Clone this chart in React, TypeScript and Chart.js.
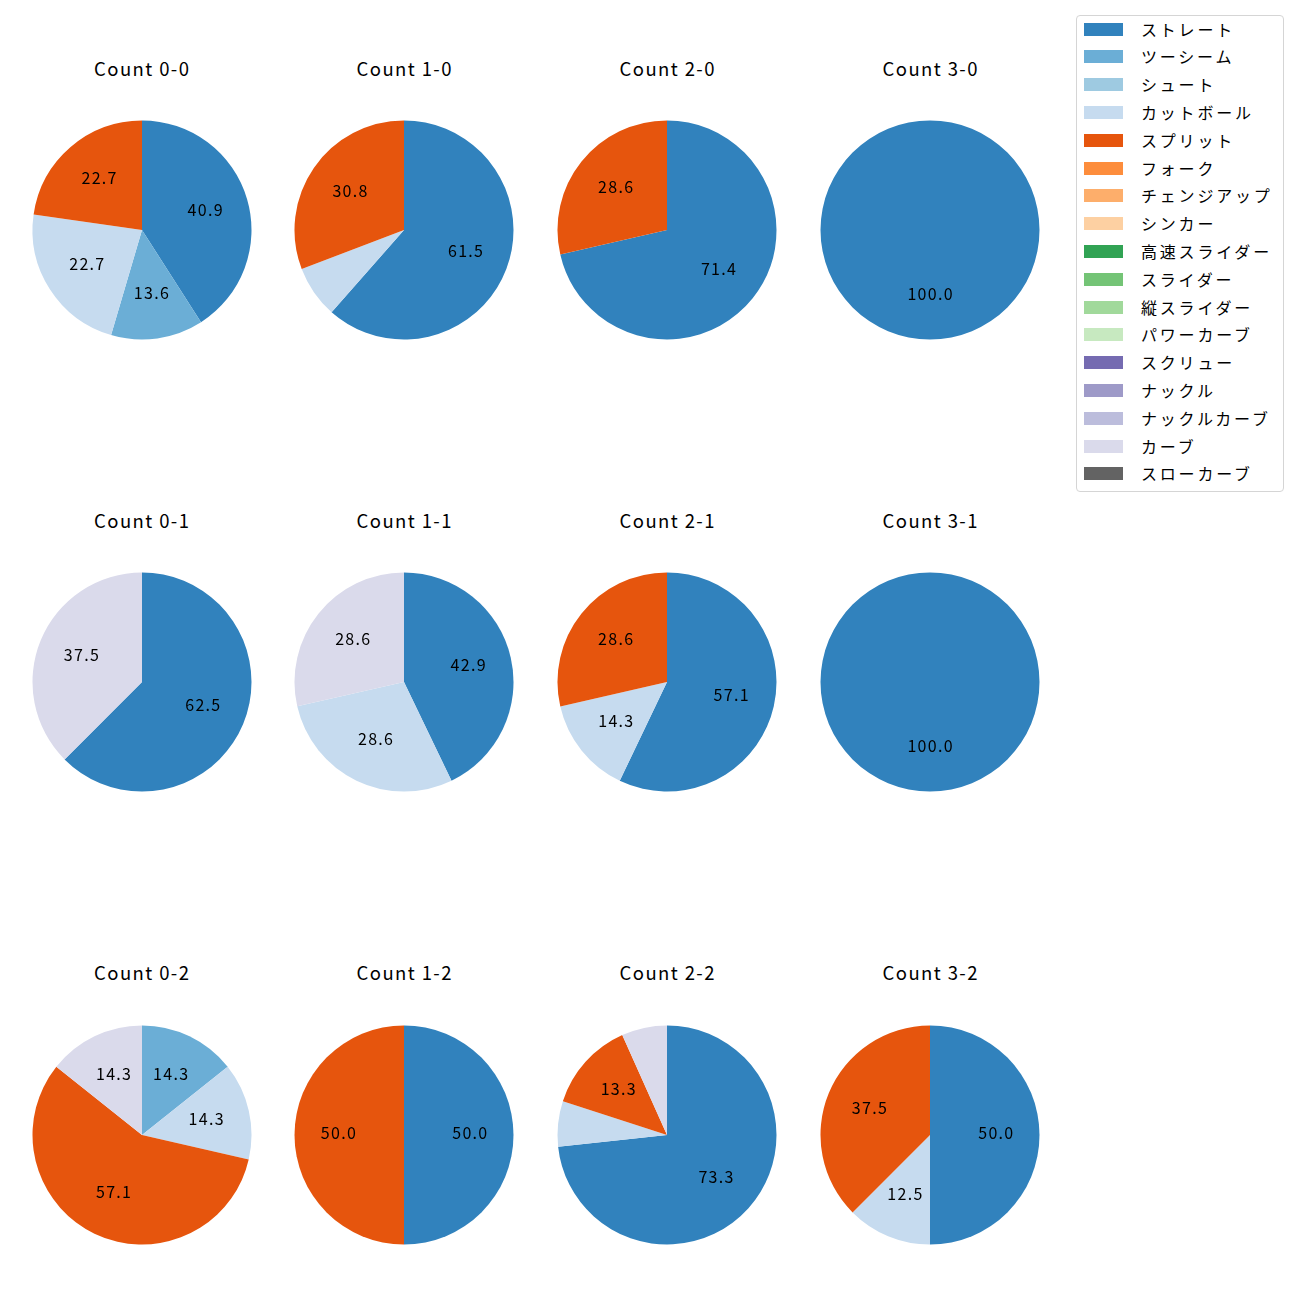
import React, { useEffect, useRef } from "react";
import { Chart, registerables } from "chart.js";

Chart.register(...registerables);

const pitchTypes = [
  "ストレート", "ツーシーム", "シュート", "カットボール", "スプリット", "フォーク",
  "チェンジアップ", "シンカー", "高速スライダー", "スライダー", "縦スライダー",
  "パワーカーブ", "スクリュー", "ナックル", "ナックルカーブ", "カーブ", "スローカーブ",
];
const pitchColors = [
  "#3182bd", "#6baed6", "#9ecae1", "#c6dbef", "#e6550d", "#fd8d3c",
  "#fdae6b", "#fdd0a2", "#31a354", "#74c476", "#a1d99b",
  "#c7e9c0", "#756bb1", "#9e9ac8", "#bcbddc", "#dadaeb", "#636363",
];

const countTitles = [
  "Count 0-0", "Count 1-0", "Count 2-0", "Count 3-0",
  "Count 0-1", "Count 1-1", "Count 2-1", "Count 3-1",
  "Count 0-2", "Count 1-2", "Count 2-2", "Count 3-2",
];

const c00Labels = ["ストレート", "ツーシーム", "カットボール", "スプリット"];
const c00Values = [40.9, 13.6, 22.7, 22.7];
const c10Labels = ["ストレート", "カットボール", "スプリット"];
const c10Values = [61.5, 7.7, 30.8];
const c20Labels = ["ストレート", "スプリット"];
const c20Values = [71.4, 28.6];
const c30Labels = ["ストレート"];
const c30Values = [100.0];
const c01Labels = ["ストレート", "カーブ"];
const c01Values = [62.5, 37.5];
const c11Labels = ["ストレート", "カットボール", "カーブ"];
const c11Values = [42.9, 28.6, 28.6];
const c21Labels = ["ストレート", "カットボール", "スプリット"];
const c21Values = [57.1, 14.3, 28.6];
const c31Labels = ["ストレート"];
const c31Values = [100.0];
const c02Labels = ["ツーシーム", "カットボール", "スプリット", "カーブ"];
const c02Values = [14.3, 14.3, 57.1, 14.3];
const c12Labels = ["ストレート", "スプリット"];
const c12Values = [50.0, 50.0];
const c22Labels = ["ストレート", "カットボール", "スプリット", "カーブ"];
const c22Values = [73.3, 6.7, 13.3, 6.7];
const c32Labels = ["ストレート", "カットボール", "スプリット"];
const c32Values = [50.0, 12.5, 37.5];

const countLabels = [c00Labels, c10Labels, c20Labels, c30Labels, c01Labels, c11Labels, c21Labels, c31Labels, c02Labels, c12Labels, c22Labels, c32Labels];
const countValues = [c00Values, c10Values, c20Values, c30Values, c01Values, c11Values, c21Values, c31Values, c02Values, c12Values, c22Values, c32Values];

const FONT = "'Noto Sans CJK JP', 'Noto Sans', sans-serif";
const colX = [141.5, 404, 667, 930];
const rowY = [229.5, 682, 1135];
const titleY = [68, 520, 972];
const R = 109.5;
const CANVAS = 240;
const LABEL_SPACING = 1.3;

const pctLabelPlugin = {
  id: "pctLabels",
  afterDatasetsDraw(chart: any) {
    const ctx = chart.ctx;
    const meta = chart.getDatasetMeta(0);
    const data = chart.data.datasets[0].data as number[];
    ctx.save();
    ctx.font = `16px ${FONT}`;
    (ctx as any).letterSpacing = `${LABEL_SPACING}px`;
    ctx.fillStyle = "#000";
    ctx.textAlign = "center";
    ctx.textBaseline = "middle";
    meta.data.forEach((arc: any, i: number) => {
      const v = data[i];
      if (v < 10) return;
      const mid = (arc.startAngle + arc.endAngle) / 2;
      const r = arc.outerRadius * 0.6;
      const x = arc.x + Math.cos(mid) * r + LABEL_SPACING / 2;
      const y = arc.y + Math.sin(mid) * r - 2;
      ctx.fillText(v.toFixed(1), x, y);
    });
    ctx.restore();
  },
};

function Pie({ idx }: { idx: number }) {
  const ref = useRef<HTMLCanvasElement>(null);
  useEffect(() => {
    const labels = countLabels[idx];
    const values = countValues[idx];
    const colors = labels.map((l) => pitchColors[pitchTypes.indexOf(l)]);
    const pad = CANVAS / 2 - R;
    const chart = new Chart(ref.current!, {
      type: "pie",
      data: {
        labels,
        datasets: [{ data: values, backgroundColor: colors, borderWidth: 0, hoverOffset: 0 }],
      },
      options: {
        animation: false,
        responsive: false,
        devicePixelRatio: 1,
        layout: { padding: pad },
        plugins: { legend: { display: false }, tooltip: { enabled: false }, title: { display: false } },
        events: [],
      },
      plugins: [pctLabelPlugin],
    });
    return () => chart.destroy();
  }, [idx]);
  const col = idx % 4;
  const row = Math.floor(idx / 4);
  return (
    <>
      <canvas
        ref={ref}
        width={CANVAS}
        height={CANVAS}
        style={{ position: "absolute", left: colX[col] - CANVAS / 2, top: rowY[row] - CANVAS / 2, width: CANVAS, height: CANVAS }}
      />
      <div
        style={{
          position: "absolute",
          left: colX[col] - 100,
          width: 200,
          top: titleY[row] - 15,
          height: 30,
          lineHeight: "30px",
          textAlign: "center",
          fontFamily: FONT,
          fontSize: 18.5,
          letterSpacing: 1.4,
          paddingLeft: 1.4,
          boxSizing: "border-box",
          color: "#000",
        }}
      >
        {countTitles[idx]}
      </div>
    </>
  );
}

function Legend() {
  return (
    <div
      style={{
        position: "absolute",
        left: 1076,
        top: 15,
        width: 208,
        height: 477,
        border: "1px solid #d5d5d5",
        borderRadius: 4,
        background: "#fff",
        fontFamily: FONT,
        fontSize: 16,
        color: "#000",
        boxSizing: "border-box",
      }}
    >
      {pitchTypes.map((p, i) => (
        <div key={p} style={{ position: "absolute", left: 0, top: i * 27.8 - 1.5, height: 28, width: 206 }}>
          <div style={{ position: "absolute", left: 7, top: 8, width: 39, height: 13, background: pitchColors[i] }} />
          <div style={{ position: "absolute", left: 64, top: 0, height: 28, lineHeight: "28px", whiteSpace: "nowrap", letterSpacing: 2.8 }}>{p}</div>
        </div>
      ))}
    </div>
  );
}

export default function App() {
  return (
    <div style={{ position: "absolute", left: 0, top: 0, width: 1300, height: 1300, background: "#fff" }}>
      {countTitles.map((_, i) => (
        <Pie key={i} idx={i} />
      ))}
      <Legend />
    </div>
  );
}
